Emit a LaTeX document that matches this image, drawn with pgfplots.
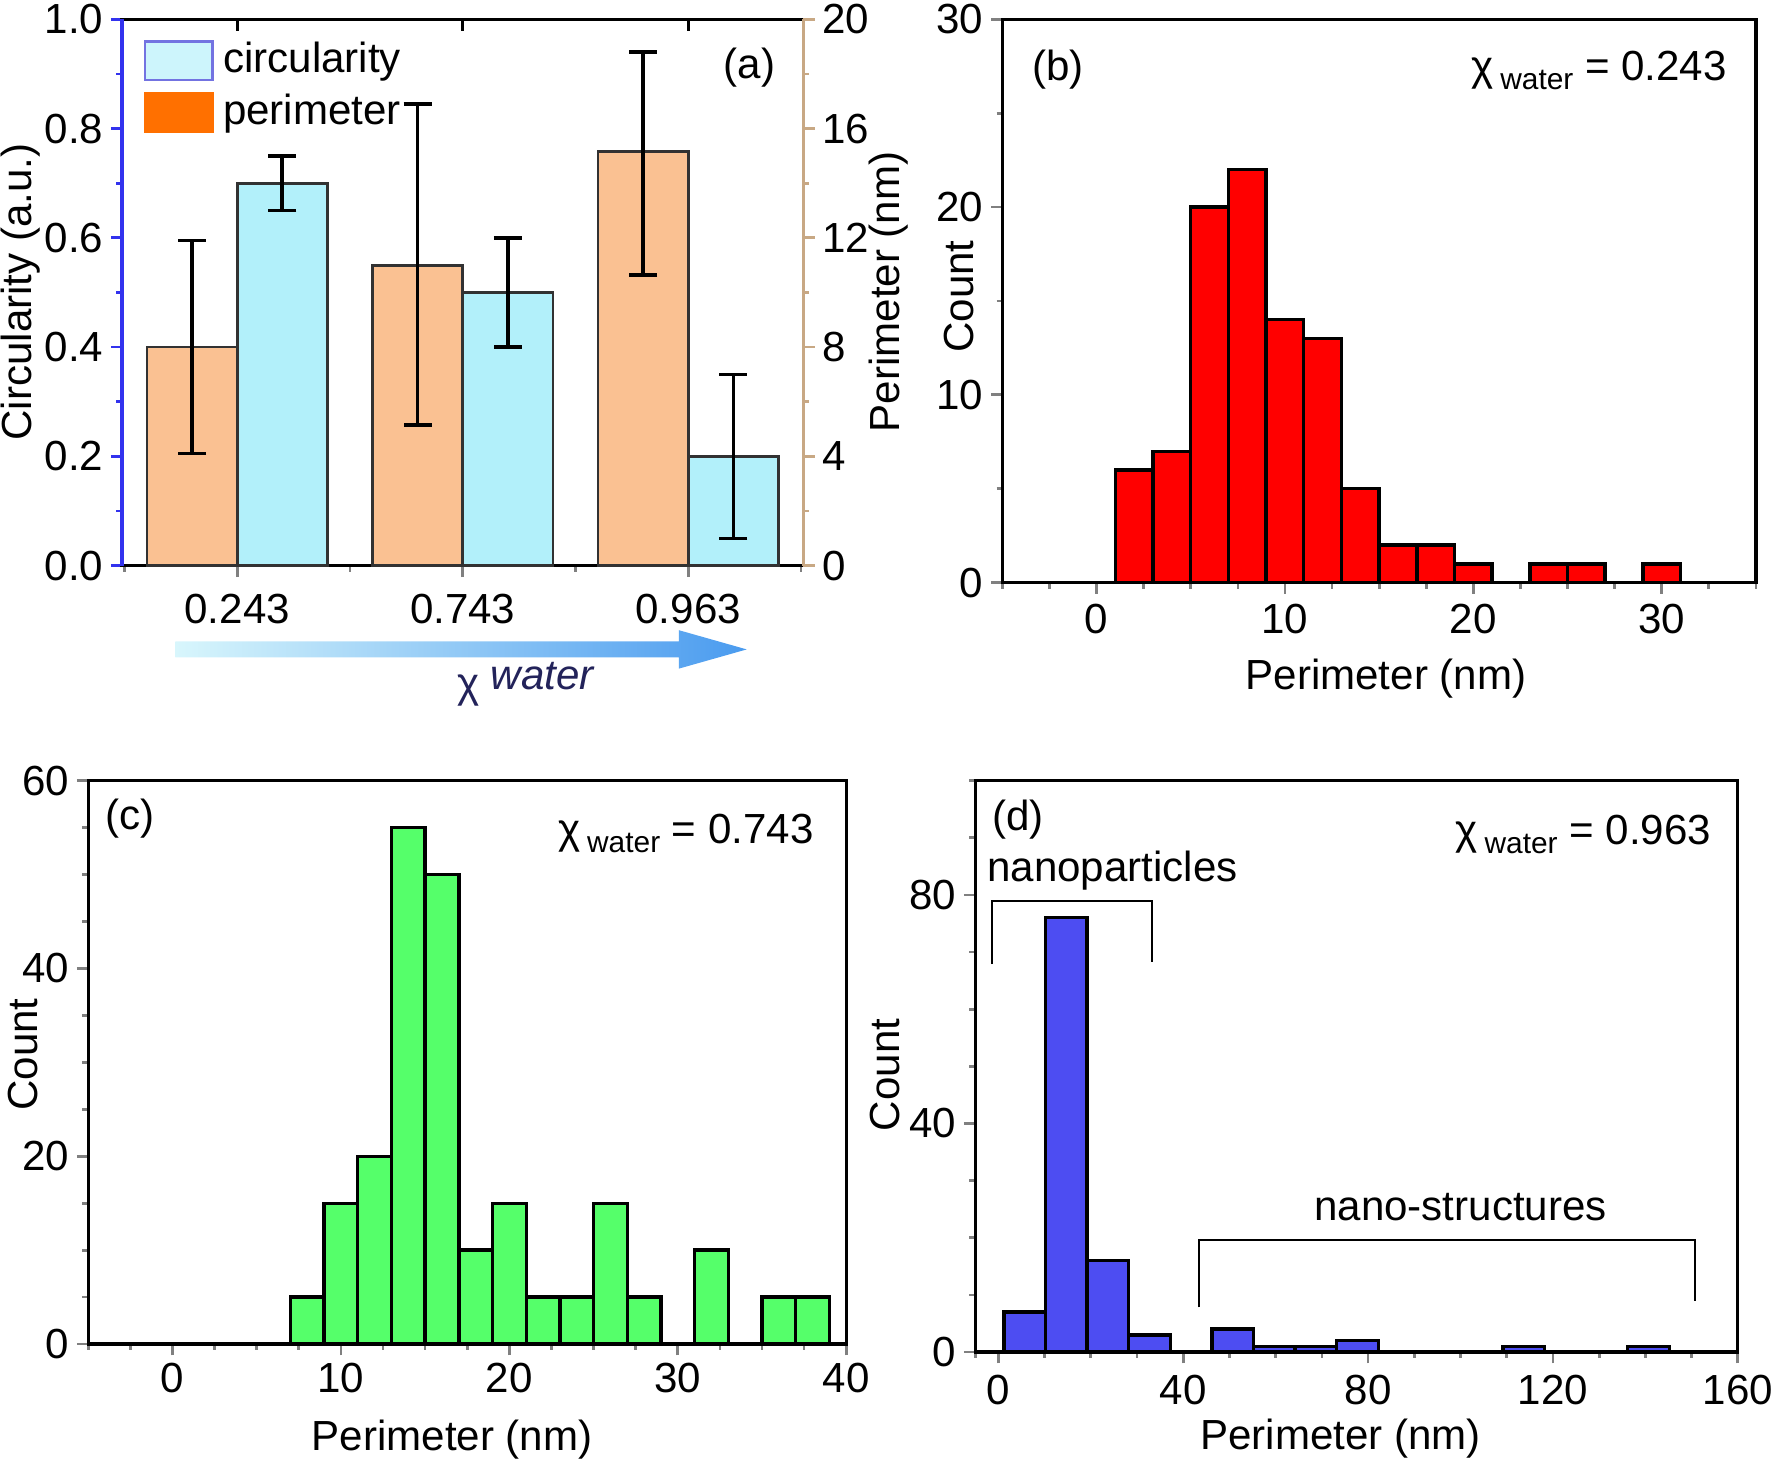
\documentclass[border=0pt]{standalone}
\usepackage{fontspec}
\setmainfont{Liberation Sans}
\usepackage{pgfplots}
\pgfplotsset{compat=1.18}

\definecolor{perimbar}{RGB}{250,193,146}
\definecolor{circbar}{RGB}{178,240,250}
\definecolor{barline}{RGB}{50,50,50}
\definecolor{leftblue}{RGB}{50,50,238}
\definecolor{righttan}{RGB}{200,168,132}
\definecolor{legcirc}{RGB}{115,115,225}
\definecolor{legcircfill}{RGB}{205,245,252}
\definecolor{legperim}{RGB}{255,112,0}
\definecolor{histred}{RGB}{255,0,0}
\definecolor{histgreen}{RGB}{85,255,106}
\definecolor{histblue}{RGB}{77,77,242}
\definecolor{arrowL}{RGB}{216,246,252}
\definecolor{arrowR}{RGB}{74,155,239}
\definecolor{chinavy}{RGB}{35,35,90}

\newcommand{\fs}{\fontsize{9.3}{11}\selectfont}
\newcommand{\chiw}[1]{χ\,\raisebox{-0.4ex}{\fontsize{6.6}{7}\selectfont water} = #1}

\pgfplotsset{
  panel/.style={
    scale only axis,
    axis line style={line width=0.75pt},
    tick align=outside,
    major tick length=2.5pt, minor tick length=1.3pt,
    tick style={line width=0.6pt},
    /pgf/number format/assume math mode=true,
    tick label style={font=\fs},
    label style={font=\fs},
    yticklabel style={inner xsep=1.5pt},
    xtick pos=bottom, ytick pos=left,
  },
  hist/.style={ybar, bar shift=0pt, draw=black, line width=0.75pt},
  errs/.style={error bars/.cd, y dir=both, y explicit,
    error bar style={line width=0.8pt, black},
    error mark options={rotate=90, line width=0.8pt, black, mark size=3.1pt}},
}

\begin{document}
\begin{tikzpicture}[font=\fs]
\path[use as bounding box] (0pt,0pt) rectangle (392pt,-324pt);

% ---------------- panel (a): circularity (left axis)
\begin{axis}[panel, clip=false,
  at={(27pt,-125pt)}, anchor=south west, width=150.5pt, height=120.75pt,
  xmin=-0.51, xmax=2.51, ymin=0, ymax=1,
  xtick={0,1,2}, xticklabels={0.243,0.743,0.963},
  minor xtick={-0.5,0.5,1.5,2.5},
  xticklabel style={yshift=-0.25pt},
  ytick={0,0.2,0.4,0.6,0.8,1.0}, minor ytick={0.1,0.3,0.5,0.7,0.9},
  yticklabel style={/pgf/number format/fixed, /pgf/number format/fixed zerofill, /pgf/number format/precision=1},
  major y tick style={leftblue}, minor y tick style={leftblue},
  xlabel={\textcolor{chinavy}{\raisebox{-0.35ex}{χ} \textit{water}}},
  every axis x label/.style={at={(axis description cs:0.593,-0.217)},anchor=center},
  ylabel={Circularity (a.u.)},
  every axis y label/.style={at={(axis description cs:-0.1495,0.501)},rotate=90,anchor=center},
]
% circularity bars, centred 0.2 to the right of each category
\addplot[ybar, bar width=0.4, bar shift=0pt, fill=circbar, draw=barline, line width=0.6pt, errs]
  coordinates {(0.2,0.70) +- (0,0.05) (1.2,0.50) +- (0,0.10) (2.2,0.20) +- (0,0.15)};
\draw[leftblue, line width=0.75pt] (rel axis cs:0,0) -- (rel axis cs:0,1);
\draw[line width=0.6pt] (axis cs:0,1) -- ([yshift=-2.5pt]axis cs:0,1);
\draw[line width=0.6pt] (axis cs:1,1) -- ([yshift=-2.5pt]axis cs:1,1);
\draw[line width=0.6pt] (axis cs:2,1) -- ([yshift=-2.5pt]axis cs:2,1);
\node[anchor=base] at (axis description cs:0.921,0.891) {(a)};
\end{axis}

% ---------------- panel (a): perimeter (right axis)
\begin{axis}[panel, clip=false,
  at={(27pt,-125pt)}, anchor=south west, width=150.5pt, height=120.75pt,
  xmin=-0.51, xmax=2.51, ymin=0, ymax=20,
  axis x line=none, axis y line*=right, ytick pos=right,
  y axis line style={righttan, line width=0.75pt},
  ytick={0,4,8,12,16,20}, minor ytick={2,6,10,14,18},
  major y tick style={righttan}, minor y tick style={righttan},
  ylabel={Perimeter (nm)},
  every axis y label/.style={at={(axis description cs:1.1246,0.501)},rotate=90,anchor=center},
  legend cell align=left,
  legend style={at={(axis description cs:0.03,0.964)}, anchor=north west, draw=none, fill=none,
    inner sep=0pt, row sep=2.2pt, font=\fs, nodes={inner ysep=0.5pt, inner xsep=2pt}},
  legend image code/.code={\draw[#1] (0pt,-4.25pt) rectangle (15pt,4.25pt);},
]
\addlegendimage{fill=legcircfill, draw=legcirc, line width=0.6pt}
\addlegendentry{circularity}
\addlegendimage{fill=legperim, draw=legperim, line width=0.6pt}
\addlegendentry{perimeter}
% perimeter bars, centred 0.2 to the left of each category
\addplot[forget plot, ybar, bar width=0.4, bar shift=0pt, fill=perimbar, draw=barline, line width=0.6pt, errs]
  coordinates {(-0.2,8) += (0,3.9) -= (0,3.9) (0.8,11) += (0,5.9) -= (0,5.85) (1.8,15.15) += (0,3.65) -= (0,4.5)};
\end{axis}

% arrow under panel (a)
\shade[left color=arrowL, right color=arrowR]
  (38.75pt,-141.75pt) -- (150pt,-141.75pt) -- (150pt,-139.25pt) -- (165pt,-143.5pt)
  -- (150pt,-147.75pt) -- (150pt,-145.25pt) -- (38.75pt,-145.25pt) -- cycle;

% ---------------- panel (b)
\begin{axis}[panel,
  at={(221.5pt,-128.75pt)}, anchor=south west, width=166.5pt, height=124.5pt,
  xmin=-5, xmax=35, ymin=0, ymax=30,
  xtick={0,10,20,30}, minor xtick={-5,-2.5,...,35},
  xticklabel style={yshift=1.25pt},
  ytick={0,10,20,30}, minor ytick={5,15,25},
  xlabel={Perimeter (nm)},
  every axis x label/.style={at={(axis description cs:0.509,-0.171)},anchor=center},
  ylabel={Count},
  every axis y label/.style={at={(axis description cs:-0.057,0.508)},rotate=90,anchor=center},
]
\addplot[hist, bar width=2, fill=histred] coordinates {
  (2,6) (4,7) (6,20) (8,22) (10,14) (12,13) (14,5) (16,2) (18,2) (20,1) (24,1) (26,1) (30,1)};
\node[anchor=base] at (axis description cs:0.0736,0.892) {(b)};
\node[anchor=base east, inner sep=0pt] at (axis description cs:0.9625,0.8916) {\chiw{0.243}};
\end{axis}

% ---------------- panel (c)
\begin{axis}[panel,
  at={(19.5pt,-297pt)}, anchor=south west, width=167.5pt, height=124.5pt,
  xmin=-5, xmax=40, ymin=0, ymax=60,
  xtick={0,10,20,30,40}, minor xtick={-5,-2.5,...,40},
  xticklabel style={yshift=1.8pt},
  ytick={0,20,40,60}, minor ytick={5,10,...,55},
  xlabel={Perimeter (nm)},
  every axis x label/.style={at={(axis description cs:0.48,-0.169)},anchor=center},
  ylabel={Count},
  every axis y label/.style={at={(axis description cs:-0.0866,0.514)},rotate=90,anchor=center},
]
\addplot[hist, bar width=2, fill=histgreen] coordinates {
  (8,5) (10,15) (12,20) (14,55) (16,50) (18,10) (20,15) (22,5) (24,5) (26,15) (28,5) (32,10) (36,5) (38,5)};
\node[anchor=base] at (axis description cs:0.0552,0.9137) {(c)};
\node[anchor=base east, inner sep=0pt] at (axis description cs:0.958,0.889) {\chiw{0.743}};
\end{axis}

% ---------------- panel (d)
\begin{axis}[panel,
  at={(215.5pt,-298.75pt)}, anchor=south west, width=168.5pt, height=126.25pt,
  xmin=-5, xmax=160, ymin=0, ymax=100,
  xtick={0,40,80,120,160}, minor xtick={-5,0,10,...,160},
  xticklabel style={yshift=1pt},
  ytick={0,40,80}, minor ytick={10,20,30,50,60,70,90,100},
  xlabel={Perimeter (nm)},
  every axis x label/.style={at={(axis description cs:0.479,-0.152)},anchor=center},
  ylabel={Count},
  every axis y label/.style={at={(axis description cs:-0.1187,0.485)},rotate=90,anchor=center},
]
\addplot[hist, bar width=9, fill=histblue] coordinates {
  (5.7,7) (14.7,76) (23.7,16) (32.7,3) (50.7,4) (59.7,1) (68.7,1) (77.7,2) (113.7,1) (140.7,1)};
\draw[line width=0.45pt] (axis cs:-1.4,67.9) -- (axis cs:-1.4,78.9) -- (axis cs:33.3,78.9) -- (axis cs:33.3,68.2);
\draw[line width=0.45pt] (axis cs:43.5,7.8) -- (axis cs:43.5,19.6) -- (axis cs:150.7,19.6) -- (axis cs:150.7,9.0);
\node[anchor=west, inner sep=0pt] at (axis cs:-2.6,84.3) {nanoparticles};
\node at (axis cs:100,25.4) {nano-structures};
\node[anchor=base] at (axis description cs:0.0564,0.913) {(d)};
\node[anchor=base east, inner sep=0pt] at (axis description cs:0.966,0.888) {\chiw{0.963}};
\end{axis}
\end{tikzpicture}
\end{document}
